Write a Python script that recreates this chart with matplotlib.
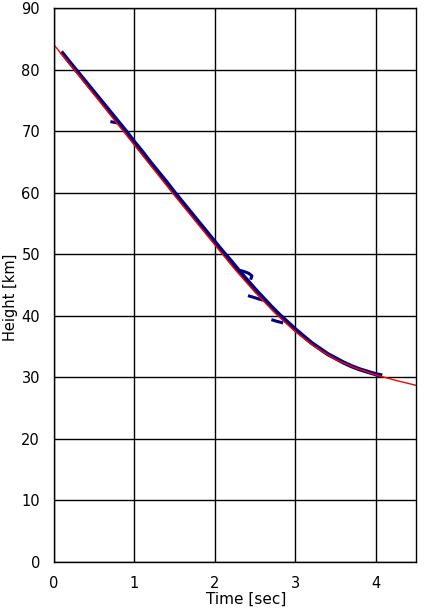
import matplotlib
matplotlib.use("Agg")
import matplotlib.pyplot as plt

# measured trace (navy) - main track
t_obs = [0.09, 0.2, 0.3, 0.4, 0.5, 0.6, 0.7, 0.8, 0.9, 1.0, 1.1, 1.2, 1.3, 1.4,
         1.5, 1.6, 1.7, 1.8, 1.9, 2.0, 2.1, 2.2, 2.3, 2.4, 2.5, 2.6, 2.7, 2.8,
         2.9, 3.0, 3.1, 3.2, 3.3, 3.4, 3.5, 3.6, 3.7, 3.8, 3.9, 4.0, 4.08]
h_obs = [82.9, 81.1, 79.5, 77.9, 76.3, 74.7, 73.1, 71.5, 69.9, 68.2, 66.6, 64.9,
         63.3, 61.7, 60.0, 58.4, 56.8, 55.2, 53.6, 52.0, 50.4, 48.9, 47.3, 45.8,
         44.3, 42.9, 41.5, 40.2, 39.0, 37.8, 36.7, 35.6, 34.7, 33.8, 33.1, 32.4,
         31.8, 31.3, 30.9, 30.5, 30.3]

# short stray pieces of the trace
t_stray1 = [0.72, 0.76, 0.80]
h_stray1 = [71.5, 71.4, 71.3]
t_stray2 = [2.30, 2.36, 2.42, 2.46, 2.45]
h_stray2 = [47.4, 47.2, 46.9, 46.5, 46.1]
t_stray3 = [2.43, 2.48, 2.53, 2.58]
h_stray3 = [43.2, 43.0, 42.8, 42.6]
t_stray4 = [2.72, 2.77, 2.83]
h_stray4 = [39.3, 39.1, 38.9]

# fitted curve (red)
t_fit = [0.0, 0.25, 0.5, 0.75, 1.0, 1.25, 1.5, 1.75, 2.0, 2.25, 2.5, 2.75,
         3.0, 3.25, 3.5, 3.75, 4.0, 4.25, 4.5]
h_fit = [84.0, 80.0, 75.9, 71.8, 67.7, 63.6, 59.5, 55.5, 51.5, 47.5, 43.8, 40.4,
         37.4, 34.9, 32.9, 31.5, 30.4, 29.5, 28.7]

plt.rcParams['font.family'] = ['DejaVu Sans']

fig = plt.figure(figsize=(4.24, 6.14), dpi=100)
ax = fig.add_axes([54 / 424, 1 - 562 / 614, 362 / 424, 554 / 614])

navy = '#000080'
ax.plot(t_obs, h_obs, color=navy, lw=3.0, solid_capstyle='butt')
for ts, hs in [(t_stray1, h_stray1), (t_stray2, h_stray2),
               (t_stray3, h_stray3), (t_stray4, h_stray4)]:
    ax.plot(ts, hs, color=navy, lw=2.2)
ax.plot(t_fit, h_fit, color='red', lw=1.0)

ax.set_xlim(0, 4.5)
ax.set_ylim(0, 90)
ax.set_xticks([0, 1, 2, 3, 4])
ax.set_yticks(range(0, 91, 10))
ax.grid(True, color='black', lw=1.0)
ax.set_axisbelow(True)
ax.tick_params(length=0, labelsize=10.5, pad=10)
for s in ax.spines.values():
    s.set_color('black')
    s.set_linewidth(1.0)

ax.set_xlabel('Time [sec]', fontsize=11)
ax.set_ylabel('Height [km]', fontsize=10.5)
ax.xaxis.set_label_coords(0.532, -0.054)
ax.yaxis.set_label_coords(-0.100, 0.478)

fig.savefig('out.png', dpi=100)
